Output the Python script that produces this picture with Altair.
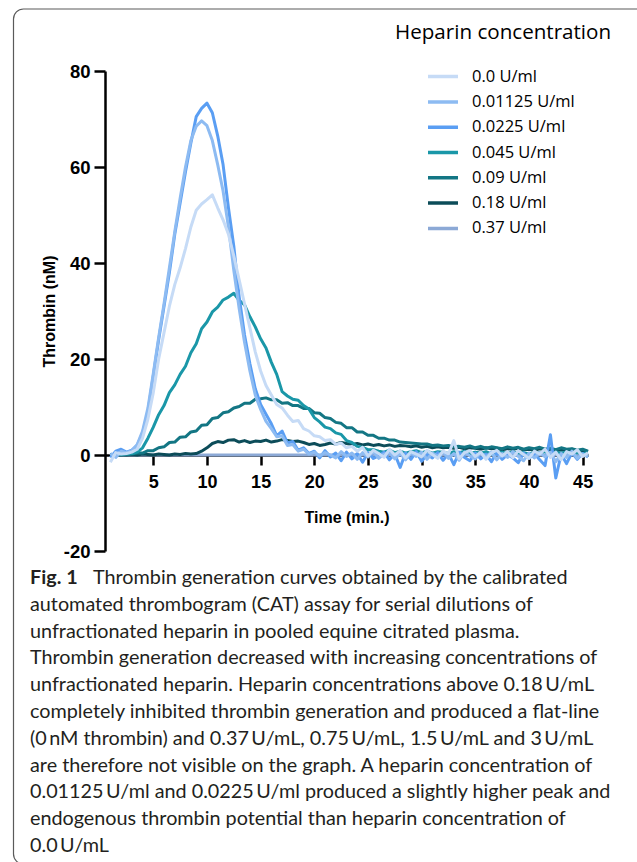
import altair as alt
import pandas as pd

# ---------------- data ----------------
TIME = [1.0, 1.5, 2.0, 2.5, 3.0, 3.5, 4.0, 4.5, 5.0, 5.5,
        6.0, 6.5, 7.0, 7.5, 8.0, 8.5, 9.0, 9.5, 10.0, 10.5,
        11.0, 11.5, 12.0, 12.5, 13.0, 13.5, 14.0, 14.5, 15.0, 15.5,
        16.0, 16.5, 17.0, 17.5, 18.0, 18.5, 19.0, 19.5, 20.0, 20.5,
        21.0, 21.5, 22.0, 22.5, 23.0, 23.5, 24.0, 24.5, 25.0, 25.5,
        26.0, 26.5, 27.0, 27.5, 28.0, 28.5, 29.0, 29.5, 30.0, 30.5,
        31.0, 31.5, 32.0, 32.5, 33.0, 33.5, 34.0, 34.5, 35.0, 35.5,
        36.0, 36.5, 37.0, 37.5, 38.0, 38.5, 39.0, 39.5, 40.0, 40.5,
        41.0, 41.5, 42.0, 42.5, 43.0, 43.5, 44.0, 44.5, 45.0, 45.5]

HEP_0000 = [-1.5, 0.5, 0.2, 0.3, 0.6, 1.2, 3.5, 7.5, 13.0, 20.0,
            25.5, 31.0, 35.5, 39.0, 43.0, 47.5, 51.0, 52.3, 53.2, 54.2,
            51.5, 49.0, 46.0, 41.5, 36.5, 31.5, 26.5, 21.5, 17.5, 14.5,
            12.5, 10.5, 9.8, 8.3, 7.0, 7.2, 5.5, 5.0, 4.0, 3.8,
            3.0, 3.2, 2.2, 2.5, 1.5, 1.8, 0.8, 1.6, -0.2, 1.0,
            0.3, -0.5, 1.2, 0.0, 0.9, -0.6, 0.7, 0.2, -0.4, 1.0,
            0.1, -0.7, 0.8, 0.2, 3.0, -0.8, 0.5, 0.9, -0.3, 0.6,
            -0.9, 0.4, 1.0, -0.2, 0.7, -0.6, 0.9, 0.1, -0.7, 0.8,
            0.2, 1.2, -0.5, 0.6, -1.0, 0.7, 0.2, 1.1, -0.3, 0.5]

HEP_01125 = [0.3, -0.5, 0.8, 0.5, 0.9, 2.2, 5.0, 9.8, 17.0, 24.5,
             31.5, 39.0, 46.5, 53.5, 60.0, 65.5, 68.5, 69.6, 68.6, 65.5,
             60.5, 55.0, 47.5, 38.5, 30.5, 23.5, 17.5, 12.5, 9.5, 7.0,
             5.5, 3.8, 4.0, 2.0, 2.2, 0.8, 1.2, 0.2, 0.6, -0.2,
             0.5, 0.0, -0.6, 0.7, -0.3, 0.4, -0.9, 0.5, -0.4, 0.8,
             -0.7, 0.2, 0.6, -0.8, 0.3, -1.0, 0.5, -0.3, 0.6, -0.9,
             0.4, -0.2, 0.7, -0.7, 0.3, -1.1, 0.6, -0.2, -0.8, 0.5,
             -0.4, 0.6, -1.0, 0.3, -0.5, 0.7, -0.3, -1.2, 0.4, -0.6,
             0.5, -0.4, 0.6, -1.4, 0.3, -0.5, 0.8, -0.7, 0.2, -0.3]

HEP_0225 = [-0.5, 0.8, 1.2, 0.6, 1.0, 2.0, 4.6, 9.0, 16.5, 24.0,
            31.0, 38.0, 46.0, 52.5, 59.0, 65.0, 70.5, 72.2, 73.3, 71.3,
            66.5, 60.5, 51.5, 43.5, 33.0, 25.0, 19.0, 13.8, 10.5, 8.5,
            6.5, 4.0, 5.0, 2.5, 2.8, 1.0, 1.5, 0.3, 0.8, -0.6,
            0.9, -0.4, 0.4, -1.2, 0.6, -0.8, 0.3, -1.5, 0.5, -0.7,
            -0.2, 0.6, -1.0, 0.2, -2.6, 0.4, -0.9, 0.7, -1.3, 0.1,
            -0.6, 0.5, -1.1, 0.3, -2.0, 0.6, -0.5, -1.2, 0.4, -0.8,
            0.2, -1.4, 0.5, -0.9, 0.1, -0.6, -1.6, 0.4, -0.7, 0.3,
            -1.0, -2.2, 4.2, -4.8, 0.2, -1.8, 0.5, -0.9, 0.3, -0.4]

HEP_045 = [0.0, 0.2, 0.1, 0.2, 0.3, 0.6, 1.5, 3.5, 5.8, 8.4,
           10.3, 13.0, 14.6, 16.8, 18.5, 21.3, 23.2, 26.3, 27.7, 29.8,
           30.8, 32.3, 32.9, 33.7, 32.2, 31.3, 28.8, 26.7, 24.2, 22.3,
           19.3, 16.8, 13.2, 12.3, 11.6, 11.4, 10.3, 9.6, 7.8, 6.9,
           5.8, 5.5, 4.6, 4.3, 3.0, 2.6, 1.8, 1.6, 1.1, 1.1,
           0.8, 0.6, 1.0, 0.5, 0.8, 0.4, 0.7, 0.9, 0.5, 0.8,
           0.4, 0.7, 0.6, 0.3, 0.7, 0.5, 0.8, 0.3, 0.6, 0.4,
           0.7, 0.2, 0.5, 0.6, 0.3, 0.7, 0.4, 0.5, 0.2, 0.6,
           0.4, 0.7, 0.3, 0.5, 0.4, 0.6, 0.2, 0.5, 0.3, 0.4]

HEP_09 = [0.0, 0.1, 0.0, 0.1, 0.2, 0.4, 0.4, 0.9, 0.9, 1.5,
          1.7, 2.6, 2.7, 3.7, 3.8, 4.8, 5.0, 6.2, 6.3, 7.6,
          7.8, 8.8, 9.0, 9.8, 10.1, 10.8, 10.8, 11.6, 11.7, 11.9,
          11.5, 11.5, 10.8, 10.9, 10.3, 10.3, 9.7, 9.7, 8.8, 8.7,
          7.8, 7.6, 6.8, 6.6, 5.7, 5.7, 4.8, 4.8, 4.1, 4.1,
          3.5, 3.5, 3.1, 3.1, 2.7, 2.6, 2.5, 2.4, 2.3, 2.3,
          2.0, 2.1, 1.9, 2.0, 1.7, 1.8, 1.6, 1.9, 1.5, 1.8,
          1.4, 1.7, 1.5, 1.3, 1.7, 1.4, 1.6, 1.2, 1.5, 1.3,
          1.6, 1.2, 1.4, 1.1, 1.5, 1.2, 1.3, 1.0, 1.2, 0.8]

HEP_18 = [0.0, 0.0, 0.1, 0.0, 0.1, 0.0, 0.2, 0.1, 0.0, 0.2,
          0.1, 0.0, 0.2, 0.1, 0.3, 0.2, 0.3, 0.8, 1.5, 2.4,
          2.8, 2.6, 3.1, 3.2, 2.7, 3.0, 2.6, 2.9, 2.8, 3.1,
          2.7, 2.9, 3.2, 3.0, 2.8, 2.9, 2.6, 2.2, 2.4, 2.0,
          2.2, 2.5, 2.3, 2.6, 2.4, 2.2, 2.4, 2.1, 2.3, 2.0,
          2.2, 1.9, 2.1, 1.8, 2.0, 1.9, 1.7, 1.9, 1.6, 1.8,
          1.5, 1.7, 1.5, 1.6, 1.4, 1.6, 1.3, 1.5, 1.4, 1.2,
          1.5, 1.3, 1.4, 1.1, 1.3, 1.2, 1.4, 1.1, 1.2, 1.0,
          1.3, 1.1, 1.2, 0.9, 1.1, 1.0, 1.2, 0.9, 1.0, 0.7]

TIME_37 = [1.0, 45.5]
HEP_37 = [0.0, 0.0]

SERIES = ["0.0 U/ml", "0.01125 U/ml", "0.0225 U/ml", "0.045 U/ml",
          "0.09 U/ml", "0.18 U/ml", "0.37 U/ml"]
COLORS = ["#c6dbf6", "#8dbbf2", "#5a9ef3", "#1a97a8",
          "#137684", "#0c4c59", "#8ca9d6"]

X_TICKS = [5, 10, 15, 20, 25, 30, 35, 40, 45]
Y_TICKS = [-20, 0, 20, 40, 60, 80]

CAPTION_FIG = "Fig. 1"
CAPTION_LINES = [
    "Thrombin generation curves obtained by the calibrated",
    "automated thrombogram (CAT) assay for serial dilutions of",
    "unfractionated heparin in pooled equine citrated plasma.",
    "Thrombin generation decreased with increasing concentrations of",
    "unfractionated heparin. Heparin concentrations above 0.18\u2009U/mL",
    "completely inhibited thrombin generation and produced a flat-line",
    "(0\u2009nM thrombin) and 0.37\u2009U/mL, 0.75\u2009U/mL, 1.5\u2009U/mL and 3\u2009U/mL",
    "are therefore not visible on the graph. A heparin concentration of",
    "0.01125\u2009U/ml and 0.0225\u2009U/ml produced a slightly higher peak and",
    "endogenous thrombin potential than heparin concentration of",
    "0.0\u2009U/mL",
]

# ---------------- build tables ----------------
draw_order = [
    ("0.37 U/ml", TIME_37, HEP_37),
    ("0.18 U/ml", TIME, HEP_18),
    ("0.09 U/ml", TIME, HEP_09),
    ("0.045 U/ml", TIME, HEP_045),
    ("0.0225 U/ml", TIME, HEP_0225),
    ("0.01125 U/ml", TIME, HEP_01125),
    ("0.0 U/ml", TIME, HEP_0000),
]
rows = []
for name, ts, vs in draw_order:
    for t, v in zip(ts, vs):
        rows.append({"time": t, "thrombin": v, "conc": name})
df = pd.DataFrame(rows)

cap_df = pd.DataFrame({"line": list(range(len(CAPTION_LINES))), "text": CAPTION_LINES})
first_df = cap_df[cap_df["line"] == 0]
rest_df = cap_df[cap_df["line"] > 0]
fig_df = pd.DataFrame({"line": [0], "text": [CAPTION_FIG]})

AX_FONT = "Liberation Sans"
CAP_FONT = "Lato"
LEG_FONT = "Open Sans"
CAP_SIZE = 19.8

lines = alt.Chart(df).mark_line(strokeWidth=3, strokeJoin="round").encode(
    x=alt.X("time:Q",
            scale=alt.Scale(domain=[0.5, 45.5], nice=False, zero=False),
            axis=alt.Axis(values=X_TICKS, title="Time (min.)", offset=-96,
                          grid=False, domainColor="black", domainWidth=2.5,
                          tickColor="black", tickWidth=2.5, tickSize=10,
                          labelFont=AX_FONT, labelFontWeight="bold", labelFontSize=18,
                          labelColor="black", labelPadding=8,
                          titleFont=AX_FONT, titleFontWeight="bold", titleFontSize=16,
                          titleColor="black", titlePadding=18)),
    y=alt.Y("thrombin:Q",
            scale=alt.Scale(domain=[-20, 80], nice=False, zero=False),
            axis=alt.Axis(values=Y_TICKS, title="Thrombin (nM)",
                          labelExpr="datum.value + ''",
                          grid=False, domainColor="black", domainWidth=2.5,
                          tickColor="black", tickWidth=2.5, tickSize=11,
                          labelFont=AX_FONT, labelFontWeight="bold", labelFontSize=18.5,
                          labelColor="black", labelPadding=4,
                          titleFont=AX_FONT, titleFontWeight="bold", titleFontSize=16,
                          titleColor="black", titlePadding=6)),
    color=alt.Color("conc:N",
                    scale=alt.Scale(domain=SERIES, range=COLORS),
                    legend=alt.Legend(orient="none", legendX=290, legendY=-48,
                                      title="Heparin concentration",
                                      titleFont=LEG_FONT, titleFontSize=20.6,
                                      titleFontWeight="normal", titleColor="black",
                                      titlePadding=25, titleLimit=400,
                                      labelFont=LEG_FONT, labelFontSize=16.5,
                                      labelColor="black", labelLimit=300,
                                      symbolType="stroke", symbolSize=900,
                                      symbolStrokeWidth=3.5, symbolOffset=31,
                                      labelOffset=12, clipHeight=16, rowPadding=8.3,
                                      padding=0)),
)

frame = alt.Chart(pd.DataFrame({"k": [0]})).mark_rect(
    fillOpacity=0, stroke="#5a5a5a", strokeWidth=1.2, cornerRadius=10
).encode(x=alt.value(-91.5), x2=alt.value(600), y=alt.value(-62), y2=alt.value(793))

cap_y = alt.Y("line:Q", scale=alt.Scale(domain=[0, 10], range=[507, 775]), axis=None)

cap_fig = alt.Chart(fig_df).mark_text(
    align="left", baseline="middle", font=CAP_FONT, fontSize=CAP_SIZE, fontWeight="bold",
    color="#231f20"
).encode(x=alt.value(-75), y=cap_y, text="text:N")

cap_first = alt.Chart(first_df).mark_text(
    align="left", baseline="middle", font=CAP_FONT, fontSize=CAP_SIZE, color="#231f20"
).encode(x=alt.value(-12), y=cap_y, text="text:N")

cap_rest = alt.Chart(rest_df).mark_text(
    align="left", baseline="middle", font=CAP_FONT, fontSize=CAP_SIZE, color="#231f20"
).encode(x=alt.value(-75), y=cap_y, text="text:N")

chart = alt.layer(frame, lines, cap_fig, cap_first, cap_rest).resolve_scale(
    y="independent"
).properties(
    width=483, height=480,
    padding={"left": 105, "top": 71, "right": 49, "bottom": 311},
    autosize=alt.AutoSizeParams(type="none"),
    background="white",
).configure_view(strokeWidth=0)

chart.save("out.html", embed_options={"renderer": "svg", "actions": False})
